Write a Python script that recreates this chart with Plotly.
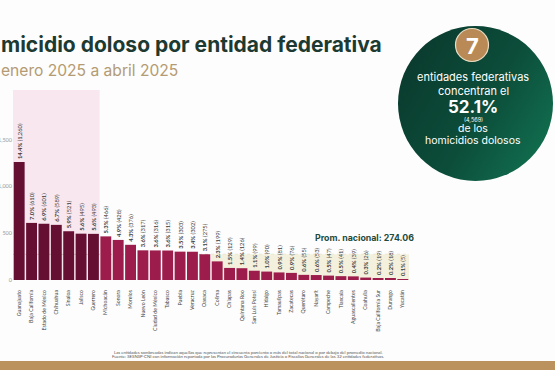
import base64
import plotly.graph_objects as go

W, H = 555, 370
ML, MR, MT, MB = 13, 146, 90, 90

estados = ["Guanajuato", "Baja California", "Estado de México", "Chihuahua", "Sinaloa",
           "Jalisco", "Guerrero", "Michoacán", "Sonora", "Morelos", "Nuevo León",
           "Ciudad de México", "Tabasco", "Puebla", "Veracruz", "Oaxaca", "Colima",
           "Chiapas", "Quintana Roo", "San Luis Potosí", "Hidalgo", "Tamaulipas",
           "Zacatecas", "Querétaro", "Nayarit", "Campeche", "Tlaxcala",
           "Aguascalientes", "Coahuila", "Baja California Sur", "Durango", "Yucatán"]
homicidios = [1260, 610, 601, 589, 521, 495, 493, 466, 428, 376, 317, 316, 315, 303,
              302, 275, 199, 129, 126, 99, 90, 81, 76, 55, 53, 47, 41, 39, 26, 19, 18, 5]
porcentajes = [14.4, 7.0, 6.9, 6.7, 5.9, 5.6, 5.6, 5.3, 4.9, 4.3, 3.6, 3.6, 3.6, 3.5,
               3.4, 3.1, 2.3, 1.5, 1.4, 1.1, 1.0, 0.9, 0.9, 0.6, 0.6, 0.5, 0.5, 0.4,
               0.3, 0.2, 0.2, 0.1]
promedio = 274.06
n_top = 7
y_ticks = [0, 500, 1000, 1500]
y_tick_labels = ["0", "500", "1,000", "1,500"]

PW, PH = W - ML - MR, H - MT - MB


def px(x):
    return (x - ML) / PW


def py(y):
    return (H - MB - y) / PH


colors = ["#650f33" if i < n_top else "#9c1c4b" for i in range(len(estados))]
labels = [f"<b>{p:.1f}%</b> ({v:,})" for p, v in zip(porcentajes, homicidios)]

fig = go.Figure()
fig.add_trace(go.Bar(
    x=list(range(len(estados))), y=homicidios, marker=dict(color=colors, line=dict(width=0)),
    width=0.88, text=labels, textposition="outside", textangle=-90,
    constraintext="none", cliponaxis=False,
    textfont=dict(size=5.8, color="#3a3a3a", family="Lato"),
    hoverinfo="skip",
))

shapes = [
    dict(type="rect", xref="paper", yref="paper", x0=0, x1=n_top / len(estados), y0=0, y1=1,
         fillcolor="#f8e7ee", line=dict(width=0), layer="below"),
    dict(type="rect", xref="x", yref="y", x0=15.5, x1=len(estados) - 0.5, y0=0, y1=promedio,
         fillcolor="#f3f0dd", line=dict(width=0), layer="below"),
    dict(type="line", xref="paper", yref="y", x0=0, x1=1, y0=promedio, y1=promedio,
         line=dict(color="#c9c2a8", width=0.8, dash="dot"), layer="below"),
    dict(type="circle", xref="paper", yref="paper", x0=px(455.5), x1=px(488.5), y0=py(61.5), y1=py(28.5),
         fillcolor="#b98a55", line=dict(color="#e9dcc4", width=1.2), layer="above"),
    dict(type="rect", xref="paper", yref="paper", x0=px(0), x1=px(W), y0=py(370), y1=py(361),
         fillcolor="#bb915d", line=dict(width=0), layer="above"),
]

svg = ("<svg xmlns='http://www.w3.org/2000/svg' width='200' height='200'>"
       "<defs><linearGradient id='g' x1='0' y1='0.2' x2='1' y2='0.8'>"
       "<stop offset='0' stop-color='#0a3a2d'/><stop offset='0.55' stop-color='#0c4d3a'/>"
       "<stop offset='1' stop-color='#117050'/></linearGradient></defs>"
       "<circle cx='100' cy='100' r='100' fill='url(#g)'/></svg>")
svg_uri = "data:image/svg+xml;base64," + base64.b64encode(svg.encode()).decode()
images = [dict(source=svg_uri, xref="paper", yref="paper", x=px(398), y=py(26),
               sizex=155 / PW, sizey=155 / PH, xanchor="left", yanchor="top",
               sizing="stretch", layer="above")]

ann = []


def add_text(text, x, y, size, color, xanchor="center", family="Lato", bold=False):
    ann.append(dict(text=f"<b>{text}</b>" if bold else text, x=px(x), y=py(y),
                    xref="paper", yref="paper", xanchor=xanchor, yanchor="middle",
                    showarrow=False, borderpad=0,
                    font=dict(size=size, color=color, family=family)))


add_text("micidio doloso por entidad federativa", 0, 45, 21, "#1d3a32", xanchor="left",
         family="Inter", bold=True)
add_text("enero 2025 a abril 2025", 0, 71, 15.6, "#b49b73", xanchor="left", family="Inter")
add_text("Prom. nacional: 274.06", 364, 237, 8.8, "#1d4b40", family="Inter", bold=True)

add_text("7", 472, 45.5, 22, "white", family="Inter", bold=True)
add_text("entidades federativas", 473, 77.5, 11, "white", family="Inter")
add_text("concentran el", 473, 90.5, 11, "white", family="Inter")
add_text("52.1%", 473, 106.5, 17, "white", family="Inter", bold=True)
add_text("(4,569)", 473, 120, 5.5, "white", family="Inter")
add_text("de los", 473, 128.5, 10.5, "white", family="Inter")
add_text("homicidios dolosos", 473, 140.5, 10.5, "white", family="Inter")

add_text("Las entidades sombreadas indican aquellas que representan el cincuenta porciento o más del total nacional o por debajo del promedio nacional.",
         248, 352, 4.3, "#555555")
add_text("Fuente: SESNSP-CNI con información reportada por las Procuradurías Generales de Justicia o Fiscalías Generales de las 32 entidades federativas.",
         248, 356.5, 4.3, "#555555")

fig.update_layout(
    width=W, height=H, margin=dict(l=ML, r=MR, t=MT, b=MB),
    paper_bgcolor="#fdfdfd", plot_bgcolor="rgba(0,0,0,0)",
    showlegend=False, shapes=shapes, images=images, annotations=ann, bargap=0.12,
    font=dict(family="Lato"),
)
fig.update_xaxes(range=[-0.5, len(estados) - 0.5], tickmode="array",
                 tickvals=list(range(len(estados))), ticktext=estados, tickangle=-90,
                 tickfont=dict(size=5.2, color="#444444"), showgrid=False, zeroline=False,
                 showline=False, ticks="", automargin=False, ticklabelstandoff=8)
fig.update_yaxes(range=[0, 2030], tickmode="array", tickvals=y_ticks, ticktext=y_tick_labels,
                 tickfont=dict(size=5.5, color="#999999"), showgrid=False, zeroline=False,
                 showline=False, ticks="", automargin=False)

fig.write_html("out.html", config={"displayModeBar": False},
               post_script="document.body.style.margin='0';document.body.style.overflow='hidden';")
